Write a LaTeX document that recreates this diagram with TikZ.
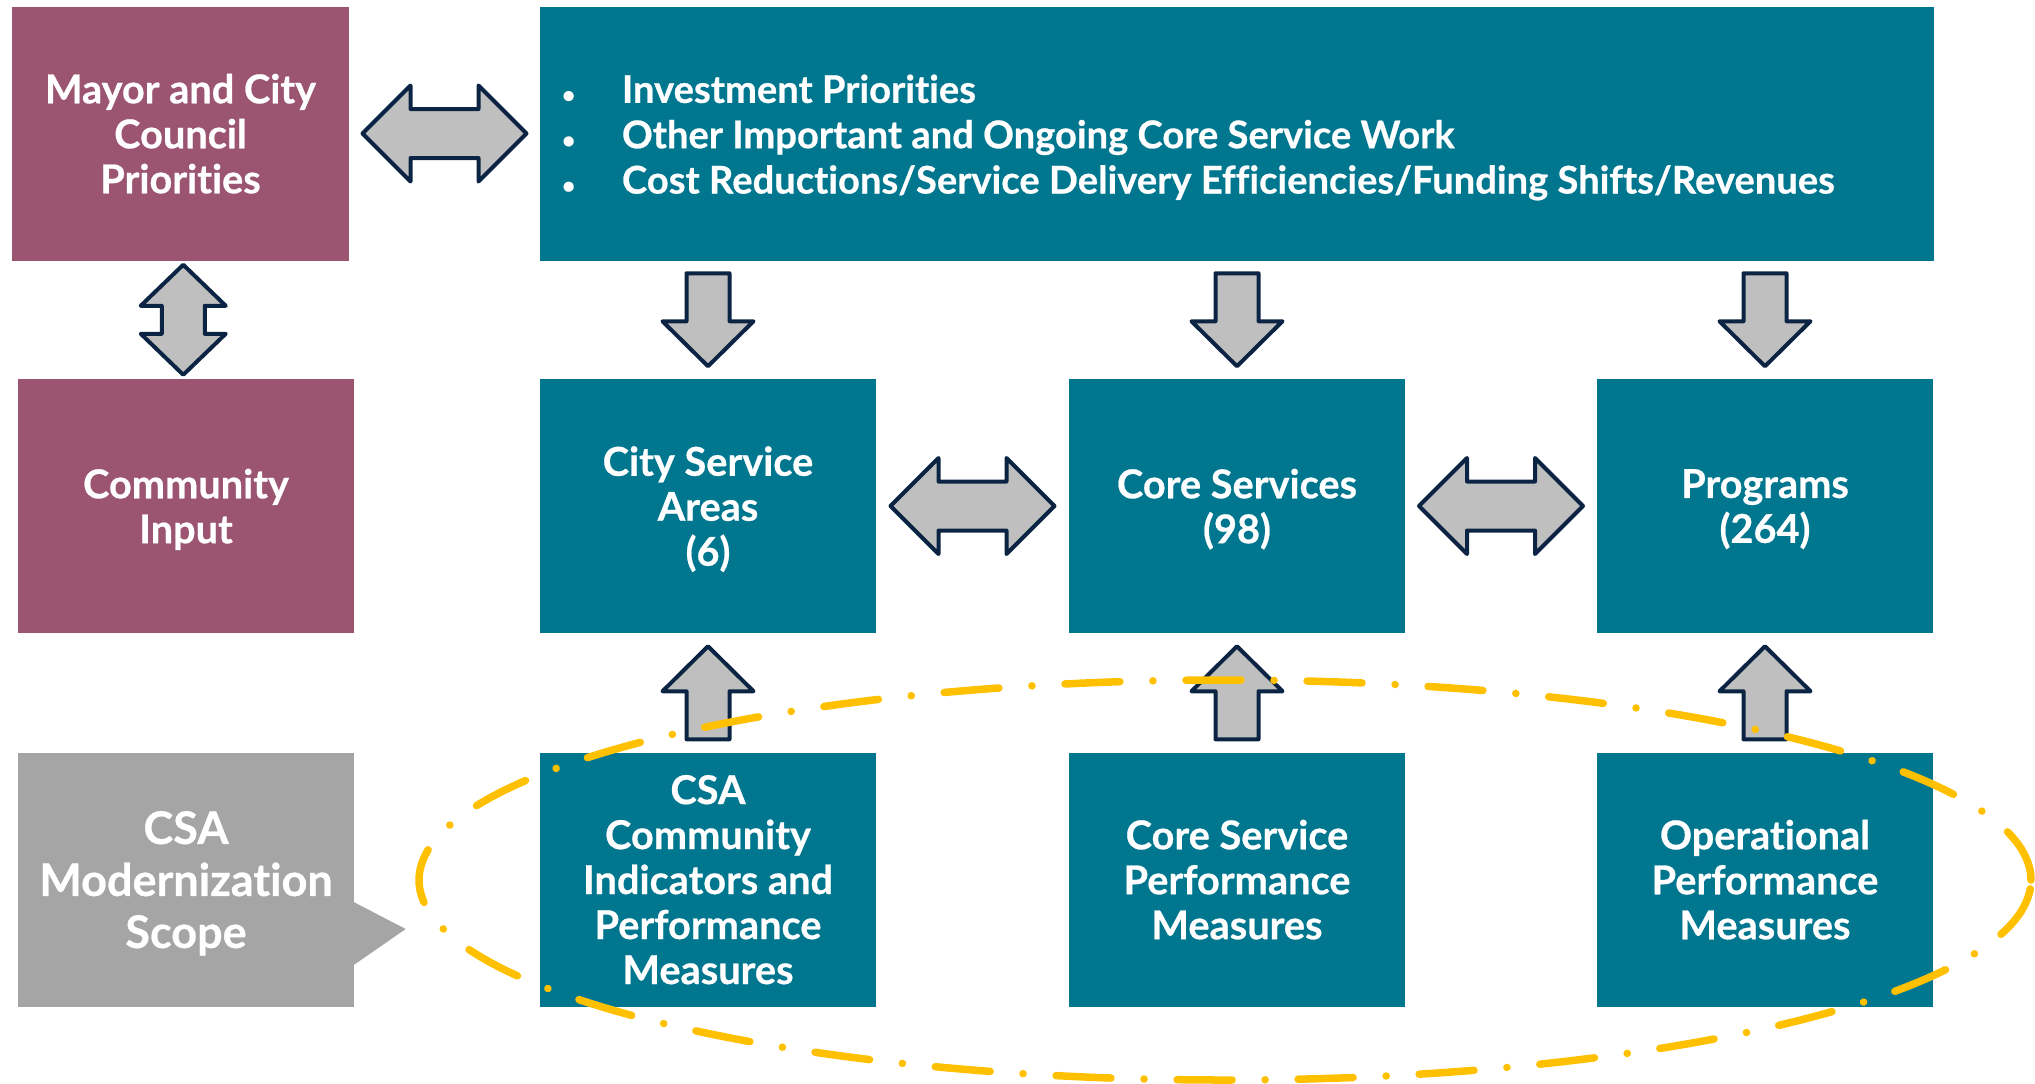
\documentclass[tikz,border=0pt]{standalone}
\usepackage{fontspec}
\setmainfont{Lato}[Ligatures=CommonOff,BoldFeatures={FakeBold=0.6}]
\usepackage{tikz}
\usetikzlibrary{calc}

\definecolor{csateal}{RGB}{0,118,143}
\definecolor{csamauve}{RGB}{155,85,113}
\definecolor{csagray}{RGB}{165,165,165}
\definecolor{arrowfill}{RGB}{191,191,191}
\definecolor{arrowline}{RGB}{12,36,68}
\definecolor{scopeyellow}{RGB}{255,192,0}

\begin{document}
\begin{tikzpicture}[x=0.1mm,y=-0.1mm,
	box/.style={minimum width=33.6mm,minimum height=25.4mm,inner sep=0pt,text=white,align=center,text depth=0pt,font=\bfseries\fontsize{11.3}{12.8}\selectfont},
	tealbox/.style={box,fill=csateal},
	mauvebox/.style={box,fill=csamauve},
	graybox/.style={box,fill=csagray,font=\bfseries\fontsize{12.8}{14.8}\selectfont},
	bannertext/.style={inner sep=0pt,text=white,align=left,font=\bfseries\fontsize{10.85}{12.9}\selectfont},
	blockarrow/.style={draw=arrowline,fill=arrowfill,line width=0.4mm,line join=round},
	scopeline/.style={draw=scopeyellow,line width=0.75mm,line cap=round,dash pattern=on 5.5mm off 3.3mm on 0.01mm off 3.3mm}]
	\useasboundingbox (0,0) rectangle (2035,1083);
	
	%top row
	\node[mauvebox,minimum width=33.7mm] (mayor) at (180.5,133.5) {Mayor and City\\Council\\Priorities};
	\node[tealbox,minimum width=139.4mm] (banner) at (1237,133.5) {};
	\node[bannertext,anchor=west] (priorities) at ($(banner.west)+(22,4)$) {%
		\makebox[6.0mm][l]{\scalebox{0.6}{\textbullet}}Investment Priorities\\
		\makebox[6.0mm][l]{\scalebox{0.6}{\textbullet}}Other Important and Ongoing Core Service Work\\
		\makebox[6.0mm][l]{\scalebox{0.6}{\textbullet}}Cost Reductions/Service Delivery Efficiencies/Funding Shifts/Revenues};
	
	%middle row
	\node[mauvebox] (community) at (186,506) {Community\\Input};
	\node[tealbox] (areas) at (708,506) {City Service\\Areas\\(6)};
	\node[tealbox] (core) at (1237,506) {Core Services\\(98)};
	\node[tealbox] (programs) at (1765,506) {Programs\\(264)};
	
	%bottom row
	\node[graybox] (modscope) at (186,879.5) {CSA\\Modernization\\Scope};
	\fill[csagray] ($(modscope.east)+(-1,22.5)$) -- ($(modscope.east)+(51,49.5)$) -- ($(modscope.east)+(-1,85.5)$) -- cycle;
	\node[tealbox] (indicators) at (708,879.5) {CSA\\Community\\Indicators and\\Performance\\Measures};
	\node[tealbox] (coremeasures) at (1237,879.5) {Core Service\\Performance\\Measures};
	\node[tealbox] (opmeasures) at (1765,879.5) {Operational\\Performance\\Measures};
	
	%down from the banner
	\foreach \col in {areas,core,programs}{
		\begin{scope}[shift={($(banner.south -| \col)!0.5!(\col.north)$)}]
			\draw[blockarrow] (-21.5,-46.5) -- (21.5,-46.5) -- (21.5,1.5) -- (45.5,1.5) -- (0,46.5) -- (-45.5,1.5) -- (-21.5,1.5) -- cycle;
		\end{scope}
	}
	
	%up from the measures
	\foreach \low/\up in {indicators/areas,coremeasures/core,opmeasures/programs}{
		\begin{scope}[shift={($(\up.south)!0.5!(\low.north)$)},yscale=-1]
			\draw[blockarrow] (-21.5,-46.5) -- (21.5,-46.5) -- (21.5,1.5) -- (45.5,1.5) -- (0,46.5) -- (-45.5,1.5) -- (-21.5,1.5) -- cycle;
		\end{scope}
	}
	
	%both ways
	\foreach \a/\b in {mayor/banner,areas/core,core/programs}{
		\begin{scope}[shift={($(\a.east)!0.5!(\b.west)$)}]
			\draw[blockarrow] (-82,0) -- (-34,-48) -- (-34,-24.5) -- (34,-24.5) -- (34,-48) -- (82,0) -- (34,48) -- (34,24.5) -- (-34,24.5) -- (-34,48) -- cycle;
		\end{scope}
	}
	\begin{scope}[shift={($(mayor.south)!0.5!(community.north)$)}]
		\draw[blockarrow] (0,-55) -- (42.5,-14) -- (21.5,-14) -- (21.5,14) -- (42.5,14) -- (0,55) -- (-42.5,14) -- (-21.5,14) -- (-21.5,-14) -- (-42.5,-14) -- cycle;
	\end{scope}
	
	%scope of the modernization
	\draw[scopeline] (1225,880) ellipse [x radius=80.6mm, y radius=20mm];
\end{tikzpicture}
\end{document}
